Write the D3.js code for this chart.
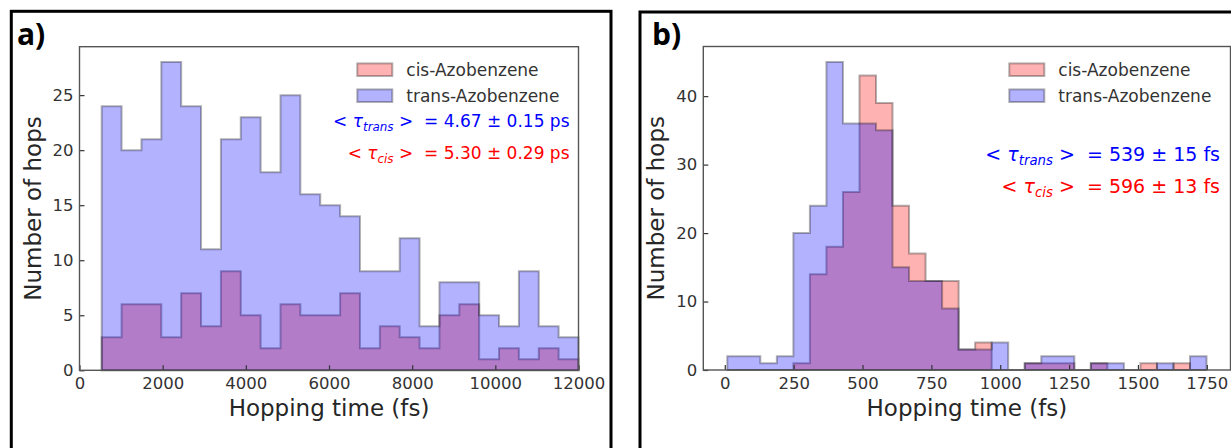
<!DOCTYPE html>
<html>
<head>
	<meta charset="utf-8">
	<title>Hopping time histograms</title>
	<script src="https://d3js.org/d3.v7.min.js"></script>
	<style>
		body { margin: 0; background: #fff; }
		svg text { font-family: "DejaVu Sans", sans-serif; white-space: pre; }
	</style>
</head>
<body>
	<svg id="chart" width="1231" height="448"></svg>

	<script type="text/javascript">
// histogram counts
// panel a) : 24 bins between ~534 fs and 12000 fs
var cisA   = [3, 6, 6, 3, 7, 4, 9, 5, 2, 6, 5, 5, 7, 2, 4, 3, 2, 5, 6, 1, 2, 1, 2, 1];
var transA = [24, 20, 21, 28, 24, 11, 21, 23, 18, 25, 16, 15, 14, 9, 9, 12, 4, 8, 8, 5, 4, 9, 4, 3];
// panel b) : 29 bins between ~9 fs and 1749 fs
var cisB   = [0, 0, 0, 0, 1, 14, 18, 26, 43, 39, 24, 17, 13, 13, 3, 4, 0, 0, 1, 1, 1, 0, 1, 0, 0, 1, 0, 1, 0];
var transB = [2, 2, 1, 2, 20, 24, 45, 36, 36, 35, 15, 13, 13, 9, 3, 3, 4, 0, 1, 2, 2, 0, 1, 1, 0, 0, 1, 0, 2];

var binStartA = 534, binWidthA = 477.75;
var binStartB = 9,   binWidthB = 60;

var xTicksA = [0, 2000, 4000, 6000, 8000, 10000, 12000];
var yTicksA = [0, 5, 10, 15, 20, 25];
var xTicksB = [0, 250, 500, 750, 1000, 1250, 1500, 1750];
var yTicksB = [0, 10, 20, 30, 40];

var legendLabels = ['cis-Azobenzene', 'trans-Azobenzene'];
var tauA = { trans: '4.67 ± 0.15 ps', cis: '5.30 ± 0.29 ps' };
var tauB = { trans: '539 ± 15 fs',    cis: '596 ± 13 fs' };

var svg = d3.select('#chart');

//  外框
svg.append('rect').attr('x', 11.3).attr('y', 11.3).attr('width', 599.7).attr('height', 460)
   .attr('fill', 'none').attr('stroke', '#000').attr('stroke-width', 3);
svg.append('rect').attr('x', 640).attr('y', 12).attr('width', 620).attr('height', 460)
   .attr('fill', 'none').attr('stroke', '#000').attr('stroke-width', 3);

function toBins(counts, start, width) {
    var pts = counts.map(function(v, i) { return { x: start + i * width, v: v }; });
    // closing point for the step
    pts.push({ x: start + counts.length * width, v: counts[counts.length - 1] });
    return pts;
}

function drawPanel(o) {
    var g = svg.append('g');
    var x = d3.scaleLinear().domain(o.xDomain).range([o.left, o.right]);
    var y = d3.scaleLinear().domain(o.yDomain).range([o.bottom, o.top]);

    var area = d3.area()
        .curve(d3.curveStepAfter)
        .x(function(d) { return x(d.x); })
        .y0(y(0))
        .y1(function(d) { return y(d.v); });

    // cis first, trans on top
    [[o.cis, 'rgb(255,0,0)'], [o.trans, 'rgb(0,0,255)']].forEach(function(s) {
        g.append('path')
         .attr('d', area(toBins(s[0], o.binStart, o.binWidth)))
         .attr('fill', s[1]).attr('fill-opacity', 0.3)
         .attr('stroke', '#000').attr('stroke-opacity', 0.3)
         .attr('stroke-width', 2).attr('stroke-linejoin', 'miter');
    });

    // axes, ticks pointing inward
    var xAxis = g.append('g').attr('transform', 'translate(0,' + o.bottom + ')')
        .call(d3.axisBottom(x).tickValues(o.xTicks).tickSize(-5).tickPadding(7).tickFormat(d3.format('d')));
    var yAxis = g.append('g').attr('transform', 'translate(' + o.left + ',0)')
        .call(d3.axisLeft(y).tickValues(o.yTicks).tickSize(-5).tickPadding(6).tickFormat(d3.format('d')));
    [xAxis, yAxis].forEach(function(a) {
        a.select('.domain').remove();
        a.selectAll('line').attr('stroke', '#333').attr('stroke-width', 1.2);
        a.selectAll('text').attr('fill', '#333').style('font-size', '16.5px')
         .style('font-family', '"DejaVu Sans", sans-serif');
    });

    g.append('rect').attr('x', o.left).attr('y', o.top)
     .attr('width', o.right - o.left).attr('height', o.bottom - o.top)
     .attr('fill', 'none').attr('stroke', '#555').attr('stroke-width', 1.4);

    g.append('text').attr('x', (o.left + o.right) / 2).attr('y', 416)
     .attr('text-anchor', 'middle').attr('fill', '#262626').style('font-size', '23px')
     .text('Hopping time (fs)');
    g.append('text').attr('transform', 'translate(' + o.ylabX + ',' + (o.top + o.bottom) / 2 + ') rotate(-90)')
     .attr('text-anchor', 'middle').attr('fill', '#262626').style('font-size', '23px')
     .text('Number of hops');

    g.append('text').attr('x', o.tagX).attr('y', 45)
     .style('font-family', '"Open Sans", "Liberation Sans", sans-serif')
     .style('font-weight', 700).style('font-size', '30px').attr('fill', '#000')
     .text(o.tag);

    // legend
    var lg = g.append('g');
    legendLabels.forEach(function(lab, i) {
        var cy = 69.7 + i * 26;
        lg.append('rect').attr('x', o.legX).attr('y', cy - 6.3).attr('width', 35).attr('height', 12.6)
          .attr('fill', i === 0 ? 'rgb(255,0,0)' : 'rgb(0,0,255)').attr('fill-opacity', 0.3)
          .attr('stroke', '#000').attr('stroke-opacity', 0.3).attr('stroke-width', 2);
        lg.append('text').attr('x', o.legX + 49).attr('y', cy + 6)
          .attr('fill', '#333').style('font-size', '17px').text(lab);
    });

    // tau annotations
    [['trans', 'blue', o.tauY[0]], ['cis', 'red', o.tauY[1]]].forEach(function(t) {
        var fs = o.tauSize;
        var txt = g.append('text').attr('x', o.tauX).attr('y', t[2])
            .attr('text-anchor', 'end').attr('fill', t[1]).style('font-size', fs + 'px');
        txt.append('tspan').text('< ');
        txt.append('tspan').style('font-style', 'italic').text('τ');
        txt.append('tspan').style('font-style', 'italic').style('font-size', (fs * 0.7) + 'px')
           .attr('dy', fs * 0.22).text(t[0]);
        txt.append('tspan').attr('dy', -fs * 0.22).text(' >');
        txt.append('tspan').text('  = ' + o.tau[t[0]]);
    });
}

drawPanel({
    left: 79.5, right: 578.5, top: 46.7, bottom: 370.3,
    xDomain: [0, 12000], yDomain: [0, 29.4],
    xTicks: xTicksA, yTicks: yTicksA,
    cis: cisA, trans: transA, binStart: binStartA, binWidth: binWidthA,
    ylabX: 41, tag: 'a)', tagX: 17,
    legX: 357.3,
    tau: tauA, tauX: 569.5, tauY: [127.3, 159.3], tauSize: 17
});

drawPanel({
    left: 703.3, right: 1230.5, top: 46.5, bottom: 370,
    xDomain: [-78, 1836], yDomain: [0, 47.25],
    xTicks: xTicksB, yTicks: yTicksB,
    cis: cisB, trans: transB, binStart: binStartB, binWidth: binWidthB,
    ylabX: 664, tag: 'b)', tagX: 652,
    legX: 1009.3,
    tau: tauB, tauX: 1220, tauY: [160.7, 192.7], tauSize: 19
});
</script>
</body>
</html>
